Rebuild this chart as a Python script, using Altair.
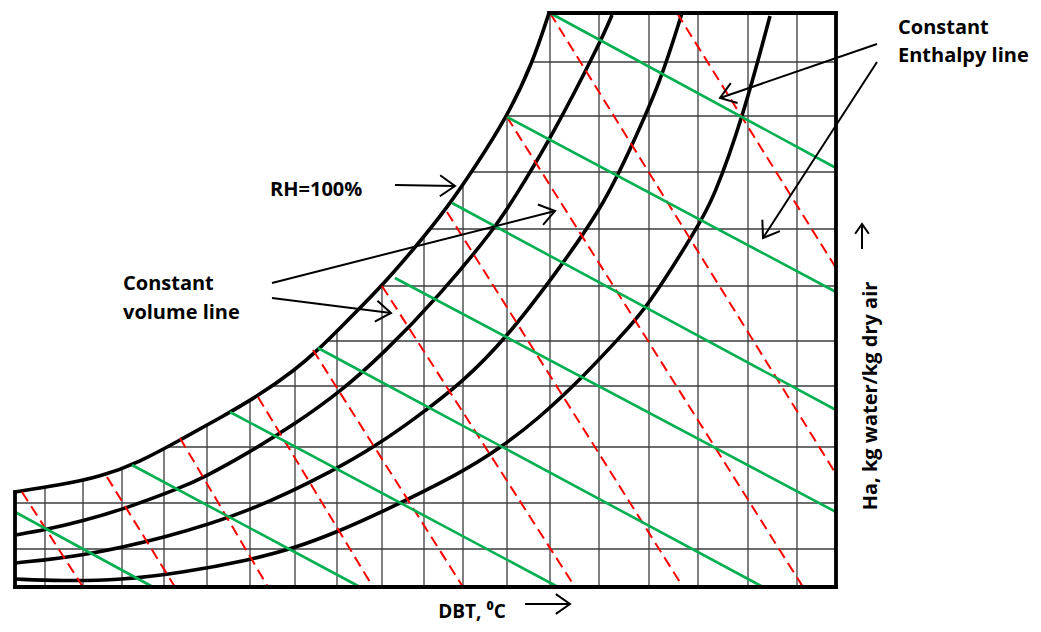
import altair as alt
import numpy as np
import pandas as pd

# ---------------- data (picture units: x to the right, y downwards) ----------------
frame_left, frame_right, frame_top, frame_bottom = 15, 836, 13, 587

grid_x = [45, 83, 122, 164, 207, 250, 295, 337, 382, 424, 463, 507, 550, 599, 649, 698, 748, 797]
grid_y = [62, 116, 172, 229, 286, 341, 386, 447, 503, 549]

# relative-humidity curves
rh100_x = [15, 60, 100, 140, 180, 220, 258, 295, 318, 340, 382, 418, 447, 475, 507, 533, 549]
rh100_y = [492, 485, 477, 462, 440, 418, 396, 370, 350, 328, 286, 244, 208, 167, 117, 62, 13]
rh2_x = [15, 45, 83, 127, 180, 203, 250, 295, 340, 382, 440, 495, 513, 550, 600, 612]
rh2_y = [535, 530, 521, 508, 488, 478, 452, 424, 392, 355, 295, 228, 200, 140, 43, 15]
rh3_x = [15, 83, 164, 250, 337, 377, 413, 463, 507, 553, 603, 633, 660, 682]
rh3_y = [563, 556, 538, 512, 469, 445, 420, 382, 337, 277, 207, 143, 83, 13]
rh4_x = [15, 60, 122, 180, 250, 295, 337, 380, 463, 500, 537, 583, 620, 647, 697, 713, 743, 770]
rh4_y = [579, 581, 580, 573, 560, 548, 532, 513, 472, 448, 420, 377, 337, 308, 228, 200, 117, 16]

# constant volume lines (red dashed)
vol_x1 = [22, 107, 180, 258, 313, 382, 447, 507, 550, 677]
vol_y1 = [492, 477, 438, 397, 350, 286, 212, 117, 13, 13]
vol_x2 = [83, 175, 268, 373, 463, 575, 683, 803, 836, 836]
vol_y2 = [587, 587, 587, 587, 587, 587, 587, 587, 474, 268]

# constant enthalpy lines (green)
enth_x1 = [15, 132, 230, 318, 395, 452, 507, 550]
enth_y1 = [512, 465, 412, 348, 278, 203, 117, 13]
enth_x2 = [153, 360, 558, 763, 836, 836, 836, 836]
enth_y2 = [587, 587, 587, 587, 512, 410, 292, 168]

# annotation arrows (start -> tip)
arr_x1 = [395, 272, 272, 877, 877, 525, 862]
arr_y1 = [185, 283, 298, 44, 62, 604, 249]
arr_x2 = [455, 555, 391, 720, 763, 570, 862]
arr_y2 = [186, 211, 313, 98, 238, 604, 224]
arr_head = [900, 900, 900, 900, 900, 800, 380]

label_text = ["RH=100%", "Constant", "volume line", "Constant", "Enthalpy line"]
label_x = [270, 123, 123, 898, 898]
label_y = [190, 284, 313, 28, 56]

xlabel_text = ["DBT, \u2070C"]
xlabel_x = [472]
xlabel_y = [618]
ylabel_text = ["Ha, kg water/kg dry air"]
ylabel_x = [871]
ylabel_y = [396]

# ---------------- build tables ----------------
vgrid = pd.DataFrame({"x": grid_x, "y": frame_top, "y2": frame_bottom})
hgrid = pd.DataFrame({"y": grid_y, "x": frame_left, "x2": frame_right})

curves = []
for name, xs, ys in [("rh100", rh100_x, rh100_y), ("rh2", rh2_x, rh2_y),
                     ("rh3", rh3_x, rh3_y), ("rh4", rh4_x, rh4_y)]:
    curves.append(pd.DataFrame({"curve": name, "i": range(len(xs)), "x": xs, "y": ys}))
curves = pd.concat(curves)
mask = pd.DataFrame({"x": rh100_x, "y": rh100_y, "top": frame_top})

vol = pd.DataFrame({"x": vol_x1, "y": vol_y1, "x2": vol_x2, "y2": vol_y2})
enth = pd.DataFrame({"x": enth_x1, "y": enth_y1, "x2": enth_x2, "y2": enth_y2})

frame = pd.DataFrame({
    "x": [frame_left, frame_left, frame_right, 549],
    "y": [492, frame_bottom, frame_top, frame_top],
    "x2": [frame_left, frame_right, frame_right, frame_right],
    "y2": [frame_bottom, frame_bottom, frame_bottom, frame_top],
})

arrows = pd.DataFrame({"x": arr_x1, "y": arr_y1, "x2": arr_x2, "y2": arr_y2, "sz": arr_head})
arrows["ang"] = (np.degrees(np.arctan2(arrows["y2"] - arrows["y"], arrows["x2"] - arrows["x"])) + 360) % 360

labels = pd.DataFrame({"x": label_x, "y": label_y, "t": label_text})
xlab = pd.DataFrame({"x": xlabel_x, "y": xlabel_y, "t": xlabel_text})
ylab = pd.DataFrame({"x": ylabel_x, "y": ylabel_y, "t": ylabel_text})

# ---------------- scales ----------------
XS = alt.Scale(domain=[8, 1033], nice=False, zero=False)
YS = alt.Scale(domain=[8, 624], nice=False, zero=False, reverse=True)


def X(f="x"):
    return alt.X(f"{f}:Q", scale=XS, axis=None)


def Y(f="y"):
    return alt.Y(f"{f}:Q", scale=YS, axis=None)


grid_style = dict(color="#3c3c3c", strokeWidth=1.3)
vg = alt.Chart(vgrid).mark_rule(**grid_style).encode(x=X(), y=Y(), y2="y2:Q")
hg = alt.Chart(hgrid).mark_rule(**grid_style).encode(y=Y(), x=X(), x2="x2:Q")

mask_layer = alt.Chart(mask).mark_area(color="white", interpolate="basis", opacity=1).encode(
    x=X(), y=Y(), y2="top:Q")

rh_layer = alt.Chart(curves).mark_line(color="black", strokeWidth=3.6, interpolate="basis").encode(
    x=X(), y=Y(), detail="curve:N", order="i:Q")

vol_layer = alt.Chart(vol).mark_rule(color="#FF0000", strokeWidth=2.0, strokeDash=[11, 6]).encode(
    x=X(), y=Y(), x2="x2:Q", y2="y2:Q")
enth_layer = alt.Chart(enth).mark_rule(color="#00B050", strokeWidth=2.6).encode(
    x=X(), y=Y(), x2="x2:Q", y2="y2:Q")

frame_layer = alt.Chart(frame).mark_rule(color="black", strokeWidth=3.8, strokeCap="square").encode(
    x=X(), y=Y(), x2="x2:Q", y2="y2:Q")

shaft = alt.Chart(arrows).mark_rule(color="black", strokeWidth=2).encode(
    x=X(), y=Y(), x2="x2:Q", y2="y2:Q")
head = alt.Chart(arrows).mark_point(shape="M -1 -0.7 L 0 0 L -1 0.7", filled=False, color="black",
                                    strokeWidth=2, opacity=1).encode(
    x=X("x2"), y=Y("y2"), angle=alt.Angle("ang:Q", scale=None), size=alt.Size("sz:Q", scale=None))

font = "Open Sans"
lab_layer = alt.Chart(labels).mark_text(font=font, fontWeight="bold", fontSize=20, align="left",
                                        baseline="middle", color="black").encode(
    x=X(), y=Y(), text="t:N")
xlab_layer = alt.Chart(xlab).mark_text(font=font, fontWeight="bold", fontSize=19, align="center",
                                       baseline="alphabetic", color="black").encode(
    x=X(), y=Y(), text="t:N")
ylab_layer = alt.Chart(ylab).mark_text(font=font, fontWeight="bold", fontSize=20, align="center",
                                       baseline="middle", angle=270, color="black").encode(
    x=X(), y=Y(), text="t:N")

chart = alt.layer(vg, hg, mask_layer, rh_layer, vol_layer, enth_layer, frame_layer,
                  shaft, head, lab_layer, xlab_layer, ylab_layer).properties(
    width=1025, height=616, padding=0, autosize="none", background="white"
).configure_view(stroke=None)

chart.save("out.html", embed_options={"renderer": "svg", "actions": False})
